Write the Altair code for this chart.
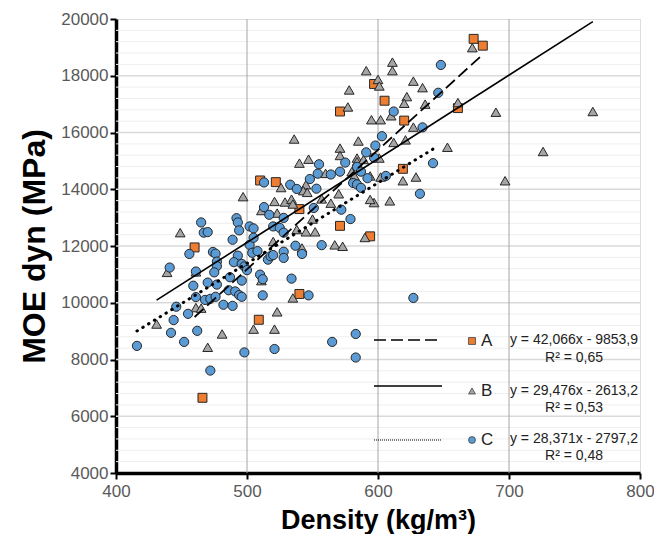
import altair as alt
import pandas as pd

# ---------------- data ----------------
a_density = [673, 680, 597, 605, 571, 620, 661, 619, 510, 522, 540, 571, 594, 460, 540, 509, 466]
a_moe = [19300, 19060, 17710, 17120, 16740, 16420, 16860, 14720, 14310, 14250, 13300, 12710, 12340, 11950, 10310, 9400, 6650]

b_density = [672, 611, 611, 591, 600, 601, 578, 627, 634, 622, 620, 636, 661, 690, 764, 577, 610, 602, 595, 627,
             536, 585, 612, 621, 653, 726, 571, 571, 584, 547, 540, 584, 589, 580, 582, 594, 560, 629, 619, 697,
             602, 609, 597, 594, 570, 526, 545, 543, 546, 557, 564, 521, 529, 534, 535, 511, 523, 550, 538, 545,
             552, 497, 520, 542, 567, 573, 590, 449, 439, 461, 511, 535, 523, 505, 521, 481, 470, 431, 461, 465, 601]
b_moe = [18990, 18480, 18180, 18180, 17870, 17640, 17500, 17810, 17580, 17265, 17030, 17000, 17055, 16715, 16740, 16900, 16590, 16450, 16450, 16190,
         15770, 15700, 15650, 15740, 15480, 15330, 15450, 15190, 15100, 15060, 14920, 14970, 15050, 14620, 14470, 14470, 14560, 14430, 14300, 14300,
         14430, 13590, 13530, 13640, 13840, 14060, 14160, 13950, 13890, 13660, 13510, 13570, 13550, 13650, 13480, 13250, 13160, 12950, 12580, 12500,
         12500, 13740, 12160, 11930, 12040, 11990, 12300, 12470, 11070, 11090, 10780, 10170, 9680, 9070, 9070, 8900, 8430, 9250, 9830, 9810, 15100]

c_density = [648, 646, 612, 634, 603, 598, 591, 597, 642, 575, 555, 584, 587, 571, 606, 554, 564, 548, 592, 581,
             584, 587, 513, 533, 538, 553, 632, 572, 579, 513, 517, 528, 551, 520, 525, 528, 502, 505, 465, 492,
             493, 494, 467, 470, 489, 502, 505, 537, 542, 557, 456, 474, 476, 493, 504, 508, 516, 518, 520, 528,
             528, 441, 461, 477, 477, 475, 490, 496, 498, 500, 487, 496, 510, 512, 534, 470, 459, 477, 486, 491,
             494, 496, 461, 468, 472, 476, 512, 547, 446, 455, 482, 489, 444, 442, 462, 452, 416, 498, 521, 565,
             583, 583, 472, 627]
c_moe = [18380, 17400, 16740, 16180, 15870, 15540, 15300, 15110, 14920, 14940, 14880, 14790, 14620, 14620, 14470, 14550, 14520, 14360, 14390, 14220,
         14170, 14050, 14240, 14160, 14010, 14020, 13840, 13280, 12950, 13370, 13100, 12990, 13340, 12690, 12640, 12470, 12690, 12620, 12830, 12980,
         12830, 12550, 12470, 12490, 12220, 12040, 12290, 12010, 11720, 12030, 11720, 11790, 11730, 11660, 11760, 11820, 11520, 11640, 11680, 11800,
         11580, 11240, 11100, 11450, 11290, 11070, 11430, 11370, 11280, 11150, 10900, 10780, 10990, 10830, 10850, 10710, 10600, 10640, 10440, 10400,
         10270, 10210, 10200, 10100, 10140, 10210, 10260, 10260, 9860, 9610, 9930, 9890, 9390, 8940, 9010, 8620, 8480, 8250, 8370, 8620,
         8900, 8070, 7610, 10170]

series_names = ["A", "B", "C"]
trend_slope = [42.066, 29.476, 28.371]
trend_intercept = [-9853.9, -2613.2, -2797.2]
trend_xmin = [460, 431, 416]
trend_xmax = [680, 764, 645]
eq_labels = ["y = 42,066x - 9853,9", "y = 29,476x - 2613,2", "y = 28,371x - 2797,2"]
r2_labels = ["R² = 0,65", "R² = 0,53", "R² = 0,48"]

x_ticks = [400, 500, 600, 700, 800]
y_ticks = [4000, 6000, 8000, 10000, 12000, 14000, 16000, 18000, 20000]
y_minor = [4400, 4800, 5200, 5600, 6400, 6800, 7200, 7600, 8400, 8800, 9200, 9600,
           10400, 10800, 11200, 11600, 12400, 12800, 13200, 13600, 14400, 14800, 15200, 15600,
           16400, 16800, 17200, 17600, 18400, 18800, 19200, 19600]

# ---------------- tables ----------------
df_a = pd.DataFrame({"d": a_density, "m": a_moe})
df_b = pd.DataFrame({"d": b_density, "m": b_moe})
df_c = pd.DataFrame({"d": c_density, "m": c_moe})

rows = []
for s, k, b0, x0, x1 in zip(series_names, trend_slope, trend_intercept, trend_xmin, trend_xmax):
    for xv in (x0, x1):
        rows.append({"s": s, "d": xv, "m": k * xv + b0})
df_tr = pd.DataFrame(rows)

W, H = 524, 454
FONT = "Liberation Sans"

xs = alt.Scale(domain=[400, 800], nice=False, zero=False)
ys = alt.Scale(domain=[4000, 20000], nice=False, zero=False)

X = alt.X("d:Q", scale=xs, axis=alt.Axis(
    values=x_ticks, grid=False, format="d", labelFlush=False, domainColor="black", domainWidth=3.5,
    tickColor="black", tickWidth=2, tickSize=6, labelColor="#595959",
    labelFontSize=17, labelFont=FONT, labelPadding=4,
    title="Density (kg/m³)", titleFont=FONT, titleFontSize=27, titleFontWeight="bold",
    titleColor="black", titleBaseline="alphabetic", titleY=55))
Y = alt.Y("m:Q", scale=ys, axis=alt.Axis(
    values=y_ticks, grid=False, format="d", labelFlush=False, domainColor="black", domainWidth=3.5,
    tickColor="black", tickWidth=2, tickSize=6, labelColor="#595959",
    labelFontSize=17, labelFont=FONT, labelPadding=2,
    title="MOE dyn (MPa)", titleFont=FONT, titleFontSize=32, titleFontWeight="bold",
    titleColor="black", titleBaseline="alphabetic", titleX=-72, titleY=H / 2))

Xn = alt.X("d:Q", scale=xs)
Yn = alt.Y("m:Q", scale=ys)

minor = alt.Chart(pd.DataFrame({"m": y_minor})).mark_rule(color="#eeeeee", strokeWidth=1).encode(y=Yn)
major = alt.Chart(pd.DataFrame({"m": y_ticks[1:-1]})).mark_rule(color="#d9d9d9", strokeWidth=1.5).encode(y=Yn)
vgrid = alt.Chart(pd.DataFrame({"d": x_ticks[1:-1]})).mark_rule(color="#a6a6a6", strokeWidth=1).encode(x=Xn)

pa = alt.Chart(df_a).mark_point(shape="square", filled=True, fill="#ED7D31", stroke="#262626",
                                strokeWidth=1, size=80, opacity=1).encode(x=X, y=Y)
pb = alt.Chart(df_b).mark_point(shape="triangle-up", filled=True, fill="#A5A5A5", stroke="#262626",
                                strokeWidth=1, size=95, opacity=1).encode(x=Xn, y=Yn)
pc = alt.Chart(df_c).mark_point(shape="circle", filled=True, fill="#5B9BD5", stroke="#262626",
                                strokeWidth=1, size=85, opacity=1).encode(x=Xn, y=Yn)

la = alt.Chart(df_tr[df_tr.s == "A"]).mark_line(color="black", strokeWidth=1.8, strokeDash=[12, 5]).encode(x=Xn, y=Yn)
lb = alt.Chart(df_tr[df_tr.s == "B"]).mark_line(color="black", strokeWidth=1.6).encode(x=Xn, y=Yn)
lc = alt.Chart(df_tr[df_tr.s == "C"]).mark_line(color="black", strokeWidth=3, strokeDash=[0.5, 6.3],
                                                 strokeCap="round").encode(x=Xn, y=Yn)

one = pd.DataFrame({"k": [0]})

LX0, LX1, MX, TX, EX = 258, 326, 356, 365, 458


def legend_item(idx, ly, my, shape, fill, dash, width, cap, eq_y, r2_y):
    line = alt.Chart(one).mark_rule(color="black", strokeWidth=width, strokeDash=dash, strokeCap=cap).encode(
        x=alt.value(LX0), x2=alt.value(LX1), y=alt.value(ly))
    mk = alt.Chart(one).mark_point(shape=shape, filled=True, fill=fill, stroke="#404040", strokeWidth=0.8,
                                   size=48, opacity=1).encode(x=alt.value(MX), y=alt.value(my))
    let = alt.Chart(one).mark_text(text=series_names[idx], font=FONT, fontSize=17, align="left",
                                   baseline="middle", color="#222222").encode(x=alt.value(TX), y=alt.value(my))
    eq = alt.Chart(one).mark_text(text=eq_labels[idx], font=FONT, fontSize=14, align="center",
                                  baseline="middle", color="#222222").encode(x=alt.value(EX), y=alt.value(eq_y))
    r2 = alt.Chart(one).mark_text(text=r2_labels[idx], font=FONT, fontSize=14, align="center",
                                  baseline="middle", color="#222222").encode(x=alt.value(EX), y=alt.value(r2_y))
    return [line, mk, let, eq, r2]


leg = []
leg += legend_item(0, 321, 322, "square", "#ED7D31", [12, 5], 1.6, "butt", 321, 339)
leg += legend_item(1, 367, 372, "triangle-up", "#A5A5A5", [1, 0], 1.4, "butt", 371.5, 388.5)
leg += legend_item(2, 421, 421, "circle", "#5B9BD5", [1, 1], 1.2, "butt", 419.5, 437)

chart = alt.layer(minor, major, vgrid, pa, pb, pc, la, lb, lc, *leg).properties(
    width=W, height=H,
    autosize=alt.AutoSizeParams(type="none"),
    padding={"left": 108, "top": 11, "right": 14, "bottom": 61},
).configure_view(stroke="#262626", strokeWidth=2.5).configure(background="white")

chart.save("out.html", embed_options={"renderer": "svg", "actions": False})
